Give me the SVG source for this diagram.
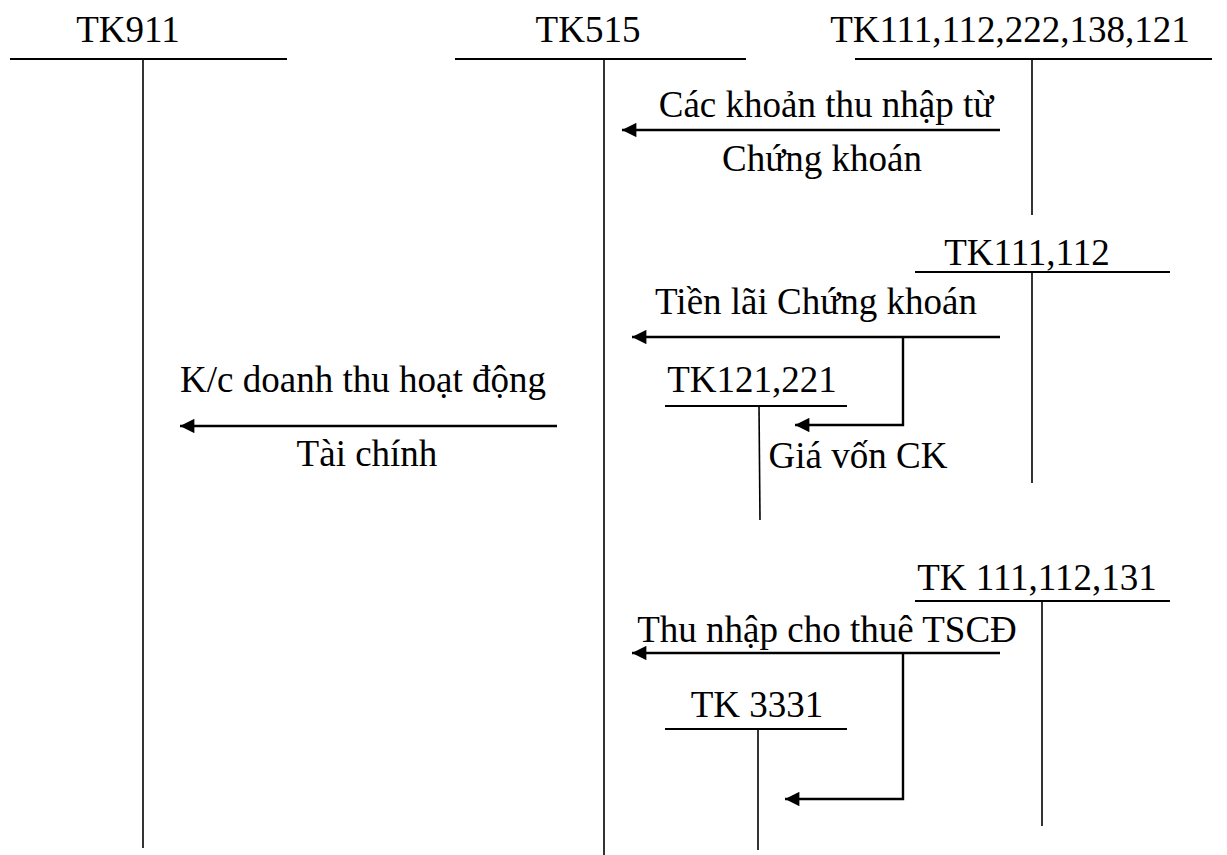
<svg xmlns="http://www.w3.org/2000/svg" width="1227" height="855" viewBox="0 0 1227 855">
<style>
text{font-family:"Liberation Serif","Times New Roman",serif;font-size:37px;fill:#000;text-anchor:middle}
.h{stroke:#000;stroke-width:2;fill:none}
.v{stroke:#000;stroke-width:1.6;fill:none}
.a{stroke:#000;stroke-width:2.4;fill:none}
</style>
<defs>
<marker id="arr" viewBox="0 0 10 10" refX="10" refY="5" markerWidth="7" markerHeight="6" markerUnits="strokeWidth" orient="auto">
<path d="M0,0 L10,5 L0,10 z" fill="#000"/>
</marker>
</defs>
<rect width="1227" height="855" fill="#fff"/>
<g id="tk911">
<text x="128" y="42">TK911</text>
<line class="h" x1="10" y1="59" x2="287" y2="59"/>
<line class="v" x1="143" y1="59" x2="143" y2="848"/>
</g>
<g id="tk515">
<text x="588" y="42">TK515</text>
<line class="h" x1="455" y1="59" x2="746" y2="59"/>
<line class="v" x1="604" y1="59" x2="604" y2="855"/>
</g>
<g id="tk111_112_222_138_121">
<text x="1010" y="42">TK111,112,222,138,121</text>
<line class="h" x1="855" y1="59" x2="1212" y2="59"/>
<line class="v" x1="1032" y1="59" x2="1032" y2="215"/>
</g>
<g id="tk111_112">
<text x="1027" y="265">TK111,112</text>
<line class="h" x1="915" y1="272" x2="1170" y2="272"/>
<line class="v" x1="1032" y1="272" x2="1032" y2="483"/>
</g>
<g id="tk121_221">
<text x="752" y="392">TK121,221</text>
<line class="h" x1="665" y1="406" x2="847" y2="406"/>
<line class="v" x1="759" y1="406" x2="760" y2="520"/>
</g>
<g id="tk111_112_131">
<text x="1037" y="590">TK 111,112,131</text>
<line class="h" x1="915" y1="601" x2="1170" y2="601"/>
<line class="v" x1="1042" y1="601" x2="1042" y2="826"/>
</g>
<g id="tk3331">
<text x="757" y="717">TK 3331</text>
<line class="h" x1="665" y1="729" x2="847" y2="729"/>
<line class="v" x1="758" y1="729" x2="758" y2="850"/>
</g>
<g id="connectors">
<line class="a" x1="1000" y1="130" x2="622" y2="130" marker-end="url(#arr)"/>
<text x="826" y="117">Các khoản thu nhập từ</text>
<text x="822" y="171">Chứng khoán</text>
<line class="a" x1="1000" y1="337" x2="632" y2="337" marker-end="url(#arr)"/>
<text x="816" y="314">Tiền lãi Chứng khoán</text>
<polyline class="a" points="903,337 903,425 795,425" marker-end="url(#arr)"/>
<text x="858" y="468">Giá vốn CK</text>
<line class="a" x1="557" y1="426" x2="180" y2="426" marker-end="url(#arr)"/>
<text x="363" y="392">K/c doanh thu hoạt động</text>
<text x="367" y="466">Tài chính</text>
<line class="a" x1="1000" y1="653" x2="632" y2="653" marker-end="url(#arr)"/>
<text x="827" y="642">Thu nhập cho thuê TSCĐ</text>
<polyline class="a" points="903,653 903,799 785,799" marker-end="url(#arr)"/>
</g>
</svg>
